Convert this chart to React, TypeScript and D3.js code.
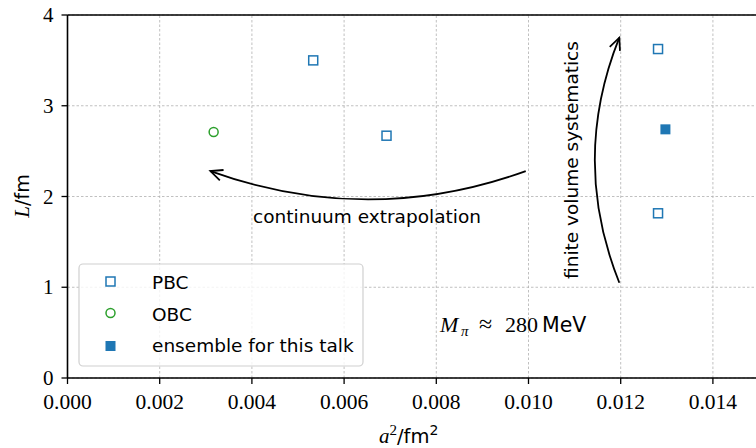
import React from "react";
import * as d3 from "d3";

const pbcX = [0.00533, 0.00692, 0.01281, 0.01281];
const pbcY = [3.5, 2.67, 3.625, 1.815];
const obcX = [0.00317];
const obcY = [2.71];
const ensX = [0.01297];
const ensY = [2.74];
const xTicks = [0, 0.002, 0.004, 0.006, 0.008, 0.01, 0.012, 0.014];
const yTicks = [0, 1, 2, 3, 4];
const legendLabels = ["PBC", "OBC", "ensemble for this talk"];

const W = 756, H = 448;
const serif = "'Liberation Serif', 'DejaVu Serif', serif";
const sans = "'DejaVu Sans', sans-serif";
const blue = "#1f77b4", green = "#2ca02c";

export default function App() {
  const x = d3.scaleLinear().domain([0, 0.015]).range([67.5, 759]);
  const y = d3.scaleLinear().domain([0, 4]).range([378, 15]);
  const arc = (x0: number, y0: number, x1: number, y1: number, rad: number) => {
    const X0 = x(x0), Y0 = y(y0), X1 = x(x1), Y1 = y(y1);
    const mx = (X0 + X1) / 2, my = (Y0 + Y1) / 2;
    const dx = X1 - X0, dy = Y1 - Y0;
    const cx = mx + rad * dy, cy = my - rad * dx;
    const p = d3.path();
    p.moveTo(X0, Y0);
    p.quadraticCurveTo(cx, cy, X1, Y1);
    return p.toString();
  };
  return (
    <svg width={W} height={H} style={{ position: "absolute", left: 0, top: 0, background: "#fff" }}>
      <defs>
        <marker id="ah" markerUnits="userSpaceOnUse" markerWidth="30" markerHeight="30" refX="0" refY="0" viewBox="-15 -15 30 30" orient="auto">
          <path d="M-12,-5.5 L0,0 L-12,5.5" fill="none" stroke="#000" strokeWidth={1.8} strokeLinejoin="miter" />
        </marker>
      </defs>
      {/* grid */}
      {xTicks.map((t) => (
        <line key={"gx" + t} x1={x(t)} x2={x(t)} y1={y(0)} y2={y(4)} stroke="#b0b0b0" strokeWidth={0.8} strokeDasharray="2.5,2" />
      ))}
      {yTicks.map((t) => (
        <line key={"gy" + t} x1={x(0)} x2={W} y1={y(t)} y2={y(t)} stroke="#b0b0b0" strokeWidth={0.8} strokeDasharray="2.5,2" />
      ))}
      {/* spines */}
      <line x1={x(0)} x2={x(0)} y1={y(0)} y2={y(4)} stroke="#000" strokeWidth={1.6} />
      <line x1={x(0)} x2={x(0.015)} y1={y(0)} y2={y(0)} stroke="#000" strokeWidth={1.6} />
      <line x1={x(0)} x2={x(0.015)} y1={y(4)} y2={y(4)} stroke="#000" strokeWidth={1.6} />
      {/* ticks */}
      {xTicks.map((t) => (
        <g key={"tx" + t}>
          <line x1={x(t)} x2={x(t)} y1={y(0)} y2={y(0) + 6} stroke="#000" strokeWidth={1.3} />
          <text x={x(t)} y={y(0) + 31} textAnchor="middle" fontFamily={serif} fontSize={21.5}>{t.toFixed(3)}</text>
        </g>
      ))}
      {yTicks.map((t) => (
        <g key={"ty" + t}>
          <line x1={x(0) - 6} x2={x(0)} y1={y(t)} y2={y(t)} stroke="#000" strokeWidth={1.3} />
          <text x={x(0) - 14} y={y(t) + 7} textAnchor="end" fontFamily={serif} fontSize={21}>{t}</text>
        </g>
      ))}
      {/* axis labels */}
      <text x={379} y={443} fontSize={21}>
        <tspan fontFamily={serif} fontStyle="italic">a</tspan>
        <tspan fontFamily={serif} fontSize={15} dy={-8}>2</tspan>
        <tspan fontFamily={sans} fontSize={19.5} dy={8}>/fm</tspan>
        <tspan fontFamily={sans} fontSize={14} dy={-8}>2</tspan>
      </text>
      <text transform={`translate(29,196) rotate(-90)`} textAnchor="middle" fontSize={21}>
        <tspan fontFamily={serif} fontStyle="italic">L</tspan>
        <tspan fontFamily={sans} fontSize={19}>/fm</tspan>
      </text>
      {/* points */}
      {pbcX.map((v, i) => (
        <rect key={"p" + i} x={x(v) - 4.5} y={y(pbcY[i]) - 4.5} width={9} height={9} fill="none" stroke={blue} strokeWidth={1.5} />
      ))}
      {obcX.map((v, i) => (
        <circle key={"o" + i} cx={x(v)} cy={y(obcY[i])} r={4.5} fill="none" stroke={green} strokeWidth={1.5} />
      ))}
      {ensX.map((v, i) => (
        <rect key={"e" + i} x={x(v) - 5} y={y(ensY[i]) - 5} width={10} height={10} fill={blue} />
      ))}
      {/* arrows */}
      <path d={arc(0.00994, 2.28, 0.0031, 2.28, 0.18)} fill="none" stroke="#000" strokeWidth={1.8} markerEnd="url(#ah)" />
      <path d={arc(0.01197, 1.05, 0.01197, 3.75, 0.2)} fill="none" stroke="#000" strokeWidth={1.8} markerEnd="url(#ah)" />
      <text x={367} y={223} textAnchor="middle" fontFamily={sans} fontSize={18.5}>continuum extrapolation</text>
      <text transform={`translate(578,160) rotate(-90)`} textAnchor="middle" fontFamily={sans} fontSize={18.5}>finite volume systematics</text>
      <text y={332} fontSize={22}>
        <tspan x={440} fontFamily={serif} fontStyle="italic">M</tspan>
        <tspan x={461} fontFamily={serif} fontStyle="italic" fontSize={15} dy={4}>π</tspan>
        <tspan x={479} fontFamily={serif} dy={-4} fontSize={24}>≈</tspan>
        <tspan x={505} fontFamily={serif}>280</tspan>
        <tspan x={542} fontFamily={sans} fontSize={20.5}>MeV</tspan>
      </text>
      {/* legend */}
      <rect x={79} y={264} width={284} height={102} rx={4} fill="#fff" fillOpacity={0.8} stroke="#d0d0d0" strokeWidth={1.2} />
      <rect x={106} y={277} width={9} height={9} fill="none" stroke={blue} strokeWidth={1.5} />
      <circle cx={110.5} cy={313} r={4.5} fill="none" stroke={green} strokeWidth={1.5} />
      <rect x={105.5} y={341} width={10} height={10} fill={blue} />
      {legendLabels.map((l, i) => (
        <text key={l} x={152} y={289 + i * 31.5} fontFamily={sans} fontSize={18.5}>{l}</text>
      ))}
    </svg>
  );
}
